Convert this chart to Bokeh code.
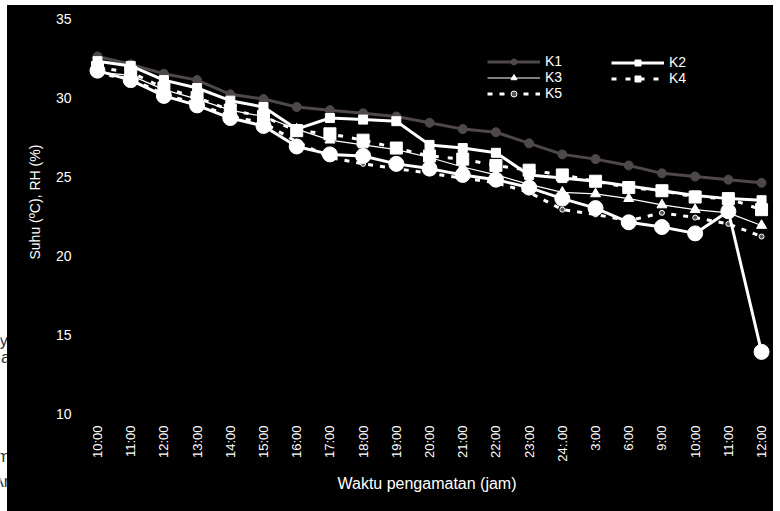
import math
from bokeh.plotting import figure
from bokeh.models import Range1d, FixedTicker, Legend, LegendItem, Spacer, Title
from bokeh.layouts import row, column
from bokeh.embed import file_html
from bokeh.resources import INLINE
from bokeh.core.properties import value

# ---- data ----
times = ["10:00", "11:00", "12:00", "13:00", "14:00", "15:00", "16:00", "17:00",
         "18:00", "19:00", "20:00", "21:00", "22:00", "23:00", "24:.00", "3:00",
         "6:00", "9:00", "10:00", "11:00", "12:00"]
K1 = [32.6, 32.1, 31.5, 31.1, 30.2, 29.9, 29.4, 29.2, 29.0, 28.8, 28.4, 28.0, 27.8,
      27.1, 26.4, 26.1, 25.7, 25.2, 25.0, 24.8, 24.6]
K2 = [32.3, 32.0, 31.1, 30.6, 29.8, 29.4, 28.0, 28.7, 28.6, 28.5, 27.0, 26.8, 26.5,
      25.1, 24.9, 24.7, 24.4, 24.1, 23.8, 23.6, 23.5]
K3 = [31.6, 31.4, 30.5, 29.9, 29.2, 28.8, 28.0, 27.3, 27.0, 26.7, 26.2, 25.6, 25.1,
      24.5, 24.0, 23.9, 23.6, 23.2, 22.9, 22.7, 21.9]
K4 = [31.9, 31.6, 30.6, 30.0, 29.2, 28.8, 27.9, 27.7, 27.3, 26.8, 26.3, 26.1, 25.7,
      25.4, 25.1, 24.7, 24.3, 24.1, 23.7, 23.6, 22.9]
K5 = [31.5, 31.2, 30.2, 29.6, 28.8, 28.4, 27.2, 26.2, 25.8, 25.5, 25.2, 24.9, 24.6,
      24.0, 22.9, 22.6, 22.2, 22.7, 22.4, 22.0, 21.2]
K6 = [31.7, 31.1, 30.1, 29.5, 28.7, 28.2, 26.9, 26.4, 26.3, 25.8, 25.5, 25.1, 24.8,
      24.3, 23.6, 23.0, 22.1, 21.8, 21.4, 22.8, 13.9]
y_ticks = [10, 15, 20, 25, 30, 35]

FONT = "Liberation Sans"
x = list(range(len(times)))

p = figure(width=766, height=506, output_backend="svg", toolbar_location=None,
           x_range=Range1d(-0.512, 20.36), y_range=Range1d(10, 35),
           min_border_left=73, min_border_right=0, min_border_top=13, min_border_bottom=98,
           background_fill_color="black", border_fill_color="black",
           outline_line_color=None)
p.styles = {"background-color": "black"}
p.grid.visible = False

# axes
p.xaxis.ticker = FixedTicker(ticks=x)
p.xaxis.major_label_overrides = {i: t for i, t in enumerate(times)}
p.xaxis.major_label_orientation = math.pi / 2
p.yaxis.ticker = FixedTicker(ticks=y_ticks)
for ax in (p.xaxis[0], p.yaxis[0]):
    ax.axis_line_color = None
    ax.major_tick_line_color = None
    ax.minor_tick_line_color = None
    ax.major_tick_out = 0
    ax.major_tick_in = 0
    ax.minor_tick_out = 0
    ax.minor_tick_in = 0
    ax.major_label_text_color = "white"
    ax.major_label_text_font = FONT
    ax.axis_label_text_color = "white"
    ax.axis_label_text_font = FONT
    ax.axis_label_text_font_style = "normal"
p.xaxis.major_label_text_font_size = "13px"
p.yaxis.major_label_text_font_size = "14px"
p.xaxis.major_label_standoff = 12
p.yaxis.major_label_standoff = 9
p.xaxis.axis_label = "Waktu pengamatan (jam)"
p.xaxis.axis_label_text_font_size = "16px"
p.xaxis.axis_label_standoff = 10

# y label as a left-side title, start-aligned with an offset so it sits a bit
# above the frame centre as in the reference
ytitle = Title(text="Suhu (ºC), RH (%)", align="left", offset=154, standoff=19,
               text_color="white", text_font=FONT, text_font_size="14px",
               text_font_style="normal")
p.add_layout(ytitle, "left")

# series
r1l = p.line(x, K1, line_color="#4f4848", line_width=3)
r1m = p.scatter(x, K1, marker="circle", size=9, fill_color="#4f4848", line_color="#4f4848")
r2l = p.line(x, K2, line_color="white", line_width=3)
r2m = p.scatter(x, K2, marker="square", size=9, fill_color="white", line_color="white")
r3l = p.line(x, K3, line_color="white", line_width=1.2)
r3m = p.scatter(x, K3, marker="triangle", size=10, fill_color="white", line_color="white")
r4l = p.line(x, K4, line_color="white", line_width=3, line_dash="5 9")
r4m = p.scatter(x, K4, marker="square", size=12, fill_color="white", line_color="white")
r5l = p.line(x, K5, line_color="white", line_width=3, line_dash="5 7")
r5m = p.scatter(x, K5, marker="circle", size=5, fill_color="#555555", line_color="white", line_width=1)
r6l = p.line(x, K6, line_color="white", line_width=3)
r6m = p.scatter(x, K6, marker="circle", size=15, fill_color="white", line_color="white")

def make_legend(items, loc):
    lg = Legend(items=items, location=loc, orientation="vertical",
                glyph_width=53, glyph_height=15, label_height=15, spacing=0,
                padding=0, margin=0, label_standoff=5,
                label_text_color="white", label_text_font=FONT,
                label_text_font_size="14px", label_text_baseline="middle",
                background_fill_alpha=0, border_line_alpha=0)
    return lg

leg1 = make_legend([LegendItem(label="K1", renderers=[r1l, r1m]),
                    LegendItem(label="K3", renderers=[r3l, r3m]),
                    LegendItem(label="K5", renderers=[r5l, r5m])], (407, 312))
leg2 = make_legend([LegendItem(label="K2", renderers=[r2l, r2m]),
                    LegendItem(label="K4", renderers=[r4l, r4m])], (531, 327))
p.add_layout(leg1)
p.add_layout(leg2)

# left white strip with cut-off page text
strip = figure(width=7, height=511, output_backend="svg", toolbar_location=None,
               x_range=Range1d(0, 7), y_range=Range1d(511, 0),
               x_axis_type=None, y_axis_type=None, min_border=0,
               background_fill_color="white", border_fill_color="white",
               outline_line_color=None)
strip.grid.visible = False
for tx, ty, tt, al in [(-1, 340, "y", "left"), (10, 357, "na", "right"),
                       (10, 456, "m", "right"), (9, 481, "Ar", "right")]:
    strip.text(x=[tx], y=[ty], text=[tt], text_align=al, text_baseline="alphabetic",
               text_color="#333333", text_font=value(FONT), text_font_size="17px")

layout = row(strip, column(Spacer(width=766, height=5), p))
open("out.html", "w").write(file_html(layout, INLINE))
